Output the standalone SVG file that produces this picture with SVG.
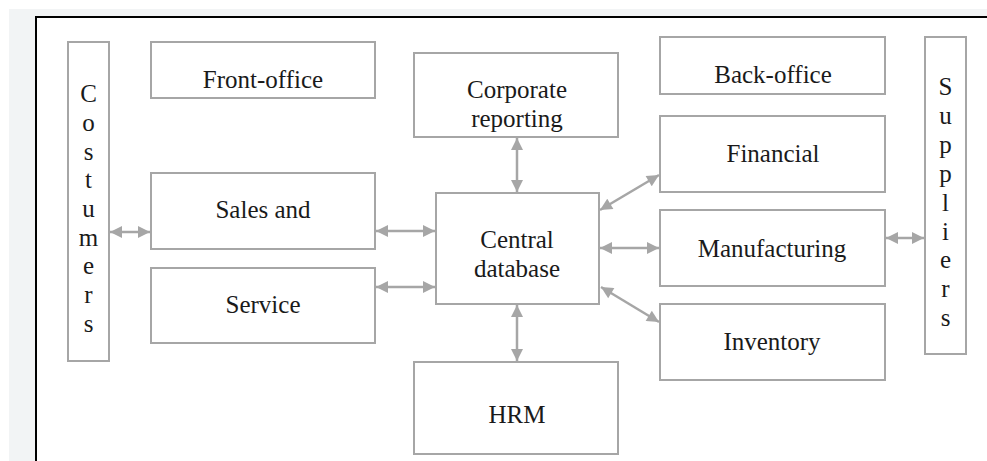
<svg xmlns="http://www.w3.org/2000/svg" width="987" height="461" viewBox="0 0 987 461">
<style>
.box{fill:#ffffff;stroke:#a6a6a6;stroke-width:2}
text{font-family:'Liberation Serif','Times New Roman',Times,serif;font-size:25px;fill:#1a1a1a;text-anchor:middle}
.c{stroke:#a6a6a6;stroke-width:2.5;fill:none;marker-start:url(#ah);marker-end:url(#ah)}
</style>
<defs>
<marker id="ah" viewBox="0 0 10 10" refX="10" refY="5" markerUnits="userSpaceOnUse" markerWidth="13" markerHeight="12" orient="auto-start-reverse">
<path d="M0,0 L10,5 L0,10 z" fill="#a6a6a6"/>
</marker>
</defs>
<rect x="0" y="0" width="987" height="461" fill="#ffffff"/>
<rect x="9" y="9" width="978" height="452" fill="#f2f4f5"/>
<rect x="36" y="17" width="951" height="444" fill="#ffffff"/>
<path d="M36,461 V17 H987" fill="none" stroke="#000000" stroke-width="2"/>

<g font-family="Liberation Serif, Times New Roman, serif">
<g id="customers"><rect class="box" x="68" y="42" width="41" height="319"/>
<text x="88.5" y="102">C</text><text x="88.5" y="131">o</text><text x="88.5" y="160">s</text><text x="88.5" y="188">t</text><text x="88.5" y="217">u</text><text x="88.5" y="246">m</text><text x="88.5" y="274">e</text><text x="88.5" y="303">r</text><text x="88.5" y="332">s</text></g>

<g id="front-office"><rect class="box" x="151" y="42" width="224" height="56"/><text x="263" y="88">Front-office</text></g>
<g id="sales"><rect class="box" x="151" y="173" width="224" height="76"/><text x="263" y="218">Sales and</text></g>
<g id="service"><rect class="box" x="151" y="268" width="224" height="75"/><text x="263" y="313">Service</text></g>
<g id="corporate"><rect class="box" x="414" y="53" width="204" height="84"/><text x="517" y="98">Corporate</text><text x="517" y="127">reporting</text></g>
<g id="central"><rect class="box" x="436" y="193" width="163" height="111"/><text x="517" y="248">Central</text><text x="517" y="277">database</text></g>
<g id="hrm"><rect class="box" x="414" y="362" width="204" height="92"/><text x="517" y="423">HRM</text></g>
<g id="back-office"><rect class="box" x="660" y="37" width="225" height="57"/><text x="773" y="83">Back-office</text></g>
<g id="financial"><rect class="box" x="660" y="116" width="225" height="76"/><text x="773" y="162">Financial</text></g>
<g id="manufacturing"><rect class="box" x="660" y="210" width="225" height="76"/><text x="772" y="257">Manufacturing</text></g>
<g id="inventory"><rect class="box" x="660" y="304" width="225" height="76"/><text x="772" y="350">Inventory</text></g>

<g id="suppliers"><rect class="box" x="925" y="37" width="41" height="317"/>
<text x="945.5" y="95">S</text><text x="945.5" y="124">u</text><text x="945.5" y="153">p</text><text x="945.5" y="182">p</text><text x="945.5" y="211">l</text><text x="945.5" y="240">i</text><text x="945.5" y="268">e</text><text x="945.5" y="297">r</text><text x="945.5" y="326">s</text></g>
</g>

<g id="connectors">
<line class="c" x1="110" y1="232" x2="150" y2="232"/>
<line class="c" x1="376" y1="231" x2="435" y2="231"/>
<line class="c" x1="376" y1="287" x2="435" y2="287"/>
<line class="c" x1="517" y1="138" x2="517" y2="192"/>
<line class="c" x1="517" y1="305" x2="517" y2="361"/>
<line class="c" x1="600" y1="248" x2="659" y2="248"/>
<line class="c" x1="886" y1="238" x2="924" y2="238"/>
<line class="c" x1="600" y1="210" x2="659" y2="175"/>
<line class="c" x1="601" y1="287" x2="659" y2="322"/>
</g>
</svg>
